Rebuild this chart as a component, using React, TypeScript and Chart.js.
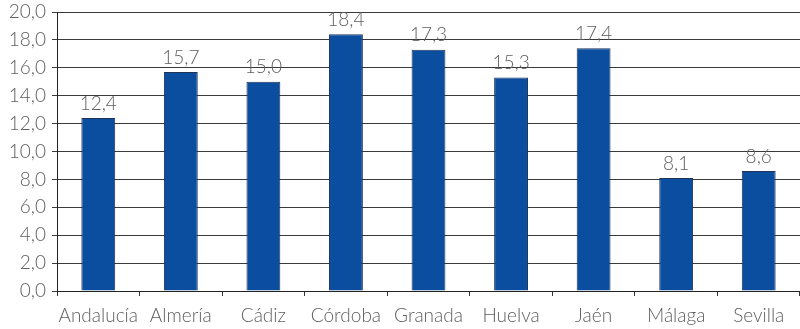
import React, { useEffect, useRef } from "react";
import { Chart, registerables } from "chart.js";

Chart.register(...registerables);

const categories = ["Andalucía", "Almería", "Cádiz", "Córdoba", "Granada", "Huelva", "Jaén", "Málaga", "Sevilla"];
const values = [12.4, 15.7, 15.0, 18.4, 17.3, 15.3, 17.4, 8.1, 8.6];
const yMin = 0;
const yMax = 20;
const yStep = 2;

const fmt = (v: number) => v.toFixed(1).replace(".", ",");
const FONT = "Lato, 'Liberation Sans', Arial, sans-serif";

const labelPlugin = {
  id: "valueLabels",
  afterDatasetsDraw(chart: any) {
    const ctx = chart.ctx;
    const meta = chart.getDatasetMeta(0);
    ctx.save();
    ctx.fillStyle = "#5e5e5e";
    ctx.font = `300 19px ${FONT}`;
    ctx.textAlign = "center";
    ctx.textBaseline = "bottom";
    meta.data.forEach((bar: any, i: number) => {
      ctx.fillText(fmt(values[i]), bar.x, bar.y - 5);
    });
    ctx.restore();
  },
};

export default function App() {
  const ref = useRef<HTMLCanvasElement | null>(null);
  useEffect(() => {
    if (!ref.current) return;
    const chart = new Chart(ref.current, {
      type: "bar",
      data: {
        labels: categories,
        datasets: [
          {
            data: values,
            backgroundColor: "#0b4d9e",
            borderColor: "#1d3358",
            borderWidth: 1,
            barPercentage: 0.41,
            categoryPercentage: 1,
          },
        ],
      },
      options: {
        animation: false,
        responsive: false,
        maintainAspectRatio: false,
        layout: { padding: { top: 12, right: 0, bottom: 3, left: 0 } },
        plugins: { legend: { display: false }, tooltip: { enabled: false } },
        scales: {
          x: {
            offset: true,
            afterFit(scale: any) {
              scale.height = 35;
              scale.paddingLeft = 0;
              scale.paddingRight = 0;
            },
            grid: {
              offset: true,
              drawOnChartArea: false,
              drawTicks: true,
              tickLength: 5,
              color: "#333",
            },
            border: { color: "#222", width: 1 },
            ticks: { color: "#5e5e5e", font: { family: FONT, size: 19, weight: "300" }, padding: 8, maxRotation: 0, autoSkip: false },
          },
          y: {
            min: yMin,
            max: yMax,
            afterFit(scale: any) {
              scale.width = 57;
              scale.paddingTop = 0;
              scale.paddingBottom = 0;
            },
            ticks: {
              stepSize: yStep,
              color: "#5e5e5e",
              font: { family: FONT, size: 19, weight: "300" },
              padding: 6,
              callback: (v: any) => fmt(Number(v)),
            },
            grid: { color: "#3a3a3a", tickLength: 5, lineWidth: 1 },
            border: { color: "#222", width: 1 },
          },
        },
      },
      plugins: [labelPlugin],
    });
    return () => chart.destroy();
  }, []);
  return (
    <div style={{ position: "fixed", left: 0, top: 0, width: 800, height: 329, background: "#fff" }}>
      <canvas ref={ref} width={800} height={329} />
    </div>
  );
}
